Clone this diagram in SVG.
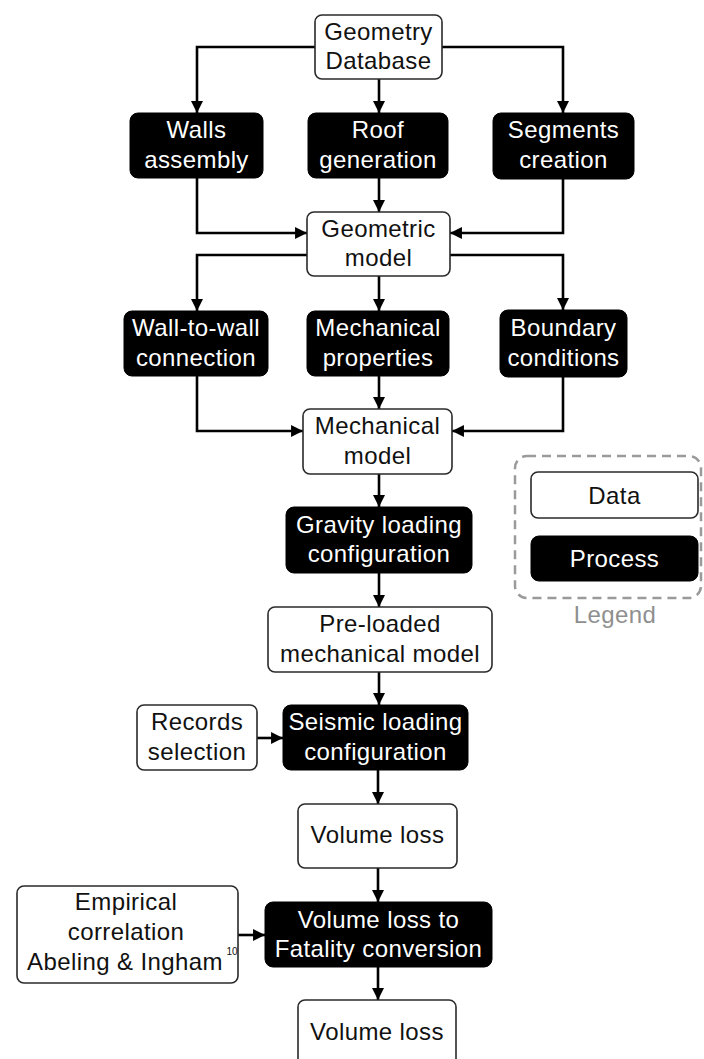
<svg xmlns="http://www.w3.org/2000/svg" width="704" height="1059" viewBox="0 0 704 1059">
  <style>
    .data { fill: #ffffff; stroke: #2a2a2a; stroke-width: 1.6; }
    .proc { fill: #000000; stroke: #000000; stroke-width: 1; }
    text { font-family: "Liberation Sans", Arial, sans-serif; font-size: 24px; text-anchor: middle; letter-spacing: 0.4px; }
    .dt { fill: #111111; }
    .pt { fill: #ffffff; }
    .conn { fill: none; stroke: #000000; stroke-width: 2.6; marker-end: url(#arrow); }
    .legend-frame { fill: none; stroke: #9a9a9a; stroke-width: 2.5; stroke-dasharray: 9 6; }
    .legend-label { fill: #8f8f8f; }
    .sup { font-size: 10px; letter-spacing: 0; }
  </style>
  <defs>
    <marker id="arrow" viewBox="0 0 10 10" refX="10" refY="5" markerWidth="4.6" markerHeight="4.6" markerUnits="strokeWidth" orient="auto">
      <path d="M0,0 L10,5 L0,10 Z" fill="#000000"/>
    </marker>
  </defs>
  <rect width="704" height="1059" fill="#ffffff"/>

  <!-- connectors -->
  <g id="connectors">
    <path class="conn" d="M315,47 H197 V113"/>
    <path class="conn" d="M442,47 H563 V113"/>
    <path class="conn" d="M379,79 V113"/>
    <path class="conn" d="M197,178 V233 H307"/>
    <path class="conn" d="M379,178 V212"/>
    <path class="conn" d="M563,179 V233 H450"/>
    <path class="conn" d="M307,255 H197 V311"/>
    <path class="conn" d="M379,276 V311"/>
    <path class="conn" d="M450,255 H563 V310"/>
    <path class="conn" d="M197,376 V431 H303"/>
    <path class="conn" d="M379,376 V409"/>
    <path class="conn" d="M563,377 V431 H452"/>
    <path class="conn" d="M379,474 V507"/>
    <path class="conn" d="M379,573 V607"/>
    <path class="conn" d="M379,672 V705"/>
    <path class="conn" d="M257,738 H283"/>
    <path class="conn" d="M378,770 V804"/>
    <path class="conn" d="M378,868 V902"/>
    <path class="conn" d="M238,935 H265"/>
    <path class="conn" d="M378,967 V1000"/>
  </g>

  <g id="geometry-database">
    <rect class="data" x="315" y="15" width="127" height="64" rx="7"/>
    <text class="dt" x="378.5" y="40">Geometry</text>
    <text class="dt" x="378.5" y="69">Database</text>
  </g>

  <g id="walls-assembly">
    <rect class="proc" x="130" y="113" width="133" height="65" rx="8"/>
    <text class="pt" x="196.5" y="138">Walls</text>
    <text class="pt" x="196.5" y="168">assembly</text>
  </g>
  <g id="roof-generation">
    <rect class="proc" x="308" y="113" width="140" height="65" rx="8"/>
    <text class="pt" x="378" y="138">Roof</text>
    <text class="pt" x="378" y="168">generation</text>
  </g>
  <g id="segments-creation">
    <rect class="proc" x="493" y="113" width="141" height="66" rx="8"/>
    <text class="pt" x="563.5" y="138">Segments</text>
    <text class="pt" x="563.5" y="168">creation</text>
  </g>

  <g id="geometric-model">
    <rect class="data" x="307" y="212" width="143" height="64" rx="7"/>
    <text class="dt" x="378.5" y="237">Geometric</text>
    <text class="dt" x="378.5" y="266">model</text>
  </g>

  <g id="wall-to-wall-connection">
    <rect class="proc" x="124" y="311" width="144" height="65" rx="8"/>
    <text class="pt" x="196" y="336">Wall-to-wall</text>
    <text class="pt" x="196" y="366">connection</text>
  </g>
  <g id="mechanical-properties">
    <rect class="proc" x="307" y="311" width="142" height="65" rx="8"/>
    <text class="pt" x="378" y="336">Mechanical</text>
    <text class="pt" x="378" y="366">properties</text>
  </g>
  <g id="boundary-conditions">
    <rect class="proc" x="500" y="310" width="127" height="67" rx="8"/>
    <text class="pt" x="563.5" y="336">Boundary</text>
    <text class="pt" x="563.5" y="366">conditions</text>
  </g>

  <g id="mechanical-model">
    <rect class="data" x="303" y="409" width="149" height="65" rx="7"/>
    <text class="dt" x="377.5" y="434">Mechanical</text>
    <text class="dt" x="377.5" y="464">model</text>
  </g>

  <g id="gravity-loading">
    <rect class="proc" x="286" y="507" width="186" height="66" rx="8"/>
    <text class="pt" x="379" y="533">Gravity loading</text>
    <text class="pt" x="379" y="562">configuration</text>
  </g>

  <g id="pre-loaded-model">
    <rect class="data" x="268" y="607" width="224" height="65" rx="7"/>
    <text class="dt" x="380" y="632">Pre-loaded</text>
    <text class="dt" x="380" y="662">mechanical model</text>
  </g>

  <g id="records-selection">
    <rect class="data" x="137" y="705" width="120" height="65" rx="7"/>
    <text class="dt" x="197" y="730">Records</text>
    <text class="dt" x="197" y="760">selection</text>
  </g>
  <g id="seismic-loading">
    <rect class="proc" x="283" y="705" width="185" height="65" rx="8"/>
    <text class="pt" x="375.5" y="730">Seismic loading</text>
    <text class="pt" x="375.5" y="760">configuration</text>
  </g>

  <g id="volume-loss">
    <rect class="data" x="298" y="804" width="159" height="64" rx="7"/>
    <text class="dt" x="377.5" y="843">Volume loss</text>
  </g>

  <g id="empirical-correlation">
    <rect class="data" x="17" y="886" width="221" height="97" rx="7"/>
    <text class="dt" x="126" y="910">Empirical</text>
    <text class="dt" x="126" y="940">correlation</text>
    <text class="dt" x="125" y="970">Abeling &amp; Ingham</text>
    <text class="dt sup" x="232" y="955">10</text>
  </g>
  <g id="fatality-conversion">
    <rect class="proc" x="265" y="902" width="227" height="65" rx="8"/>
    <text class="pt" x="378.5" y="928">Volume loss to</text>
    <text class="pt" x="378.5" y="957">Fatality conversion</text>
  </g>

  <g id="volume-loss-final">
    <rect class="data" x="298" y="1000" width="158" height="70" rx="7"/>
    <text class="dt" x="377" y="1040">Volume loss</text>
  </g>

  <!-- legend -->
  <g id="legend">
    <rect class="legend-frame" x="515" y="456" width="186" height="142" rx="12"/>
    <g id="legend-data">
      <rect class="data" x="531" y="472" width="167" height="46" rx="7"/>
      <text class="dt" x="614.5" y="504">Data</text>
    </g>
    <g id="legend-process">
      <rect class="proc" x="531" y="536" width="167" height="45" rx="8"/>
      <text class="pt" x="614.5" y="567">Process</text>
    </g>
    <text class="legend-label" x="615" y="623">Legend</text>
  </g>
</svg>
